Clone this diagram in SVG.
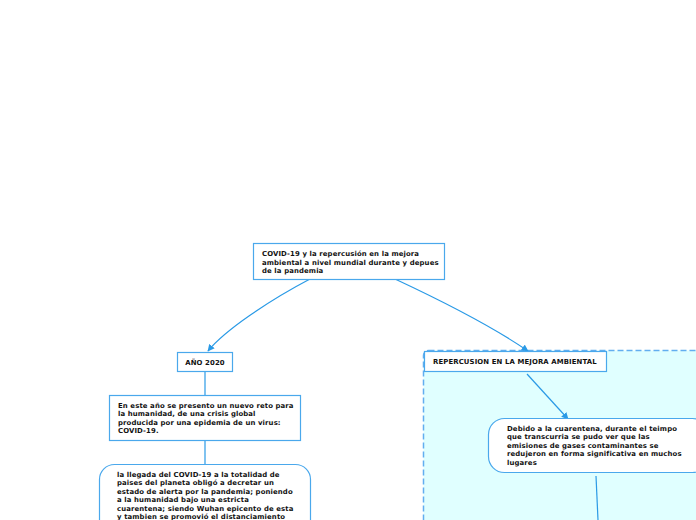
<svg xmlns="http://www.w3.org/2000/svg" width="696" height="520" viewBox="0 0 696 520">
<defs>
<style>
text{font-family:"DejaVu Sans","Liberation Sans",sans-serif;font-weight:bold;font-size:6.9px;letter-spacing:0.12px;fill:#111}
.box{fill:#fff;stroke:#4aa8ec;stroke-width:1.2}
.con{fill:none;stroke:#2a9ae6;stroke-width:1.2}
</style>
<marker id="ah" viewBox="0 0 10 10" refX="9" refY="5" markerWidth="7" markerHeight="7" orient="auto" markerUnits="userSpaceOnUse"><path d="M0,0 L10,5 L0,10 z" fill="#2a9ae6"/></marker>
</defs>
<rect width="696" height="520" fill="#fff"/>
<g id="container">
<rect x="423.5" y="350.5" width="280" height="180" rx="5" fill="#e0ffff" stroke="#62aef0" stroke-width="1.5" stroke-dasharray="6,3"/>
</g>
<g id="connectors">
<path class="con" d="M310,279 C270,300 225,330 208,351" marker-end="url(#ah)"/>
<path class="con" d="M395,279 C440,300 490,325 528,351" marker-end="url(#ah)"/>
<path class="con" d="M205,371 L205,395"/>
<path class="con" d="M205,440 L205,464"/>
<path class="con" d="M527,374 L568,419" marker-end="url(#ah)"/>
<path class="con" d="M596,476 L598,520"/>
</g>
<g id="root">
<rect class="box" x="253.5" y="243.5" width="191" height="36"/>
<text x="262" y="256">COVID-19 y la repercusión en la mejora</text>
<text x="262" y="264.5">ambiental a nivel mundial durante y depues</text>
<text x="262" y="273">de la pandemia</text>
</g>
<g id="ano2020">
<rect class="box" x="177.5" y="352.5" width="55" height="19"/>
<text x="205" y="364.5" text-anchor="middle">AÑO 2020</text>
</g>
<g id="reto">
<rect class="box" x="109.5" y="395.5" width="191" height="45"/>
<text x="118" y="407.5">En este año se presento un nuevo reto para</text>
<text x="118" y="416">la humanidad, de una crisis global</text>
<text x="118" y="424.5">producida por una epidemia de un virus:</text>
<text x="118" y="433">COVID-19.</text>
</g>
<g id="llegada">
<rect class="box" x="99.5" y="464.5" width="211" height="80" rx="15"/>
<text x="117" y="476.5">la llegada del COVID-19 a la totalidad de</text>
<text x="117" y="485">paises del planeta obligó a decretar un</text>
<text x="117" y="493.5">estado de alerta por la pandemia; poniendo</text>
<text x="117" y="502">a la humanidad bajo una estricta</text>
<text x="117" y="510.5">cuarentena; siendo Wuhan epicento de esta</text>
<text x="117" y="519">y tambien se promovió el distanciamiento</text>
</g>
<g id="repercusion">
<rect class="box" x="424.5" y="351.5" width="182" height="20"/>
<text x="433" y="364">REPERCUSION EN LA MEJORA AMBIENTAL</text>
</g>
<g id="debido">
<rect class="box" x="488.5" y="418.5" width="220" height="54" rx="16"/>
<text x="507" y="430.5">Debido a la cuarentena, durante el teimpo</text>
<text x="507" y="439">que transcurria se pudo ver que las</text>
<text x="507" y="447.5">emisiones de gases contaminantes se</text>
<text x="507" y="456">redujeron en forma significativa en muchos</text>
<text x="507" y="464.5">lugares</text>
</g>
</svg>
